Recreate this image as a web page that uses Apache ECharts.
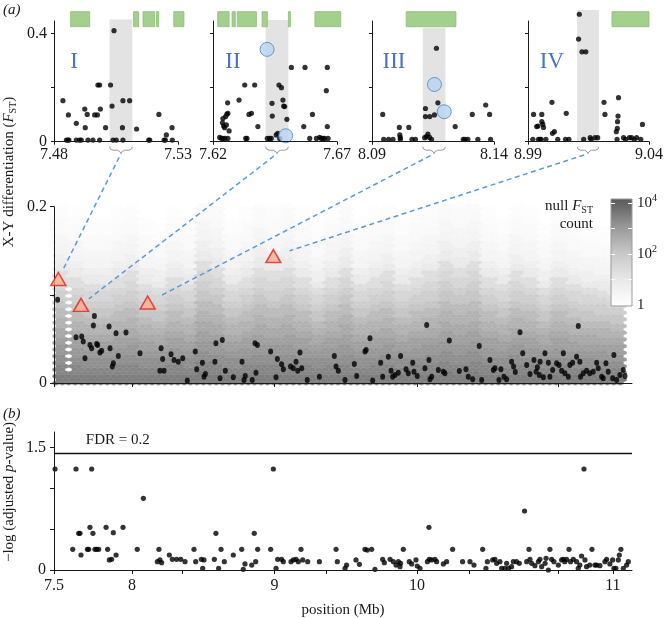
<!DOCTYPE html>
<html>
<head>
<meta charset="utf-8">
<script src="https://cdn.jsdelivr.net/npm/echarts@6/dist/echarts.min.js"></script>
<style>
  html, body { margin: 0; padding: 0; background: #fff; }
  #chart { width: 666px; height: 618px; }
</style>
</head>
<body>
<div id="chart"></div>
<script>
const FONT = 'Liberation Serif';
const INK = '#1a1a1a';

// ---------- (a) insets: windows around the four candidate SNPs ----------
const insetRanges = [[7.48, 7.53], [7.62, 7.67], [8.09, 8.14], [8.99, 9.04]];
const insetNames = ['I', 'II', 'III', 'IV'];
// shaded window [start, end, top]
const insetShade = [[7.5024, 7.5116, 0.453], [7.6412, 7.6504, 0.451], [8.1108, 8.1201, 0.422], [9.0103, 9.0193, 0.488]];
// green gene bars [start, end]
const genesI = [[7.4867, 7.4944], [7.5121, 7.5141], [7.5159, 7.5206], [7.5213, 7.5222], [7.5283, 7.5324]];
const genesII = [[7.6219, 7.6265], [7.6277, 7.6290], [7.6298, 7.6375], [7.6398, 7.6419], [7.6504, 7.6512], [7.6611, 7.6715]];
const genesIII = [[8.1040, 8.1244]];
const genesIV = [[9.0247, 9.0400]];

const dotsI = [[7.4836,0.152],[7.4850,0.006],[7.4856,0.006],[7.4860,0.006],[7.4858,0.099],[7.4890,0.068],[7.4890,0.006],
  [7.4903,0.006],[7.4910,0.006],[7.4926,0.052],[7.4924,0.121],[7.4934,0.101],[7.4937,0.006],[7.4957,0.006],[7.4964,0.099],
  [7.4975,0.099],[7.4977,0.210],[7.4984,0.210],[7.4987,0.121],[7.4984,0.006],[7.5008,0.052],[7.5028,0.210],[7.5034,0.132],
  [7.5038,0.006],[7.5042,0.411],[7.5051,0.006],[7.5076,0.052],[7.5078,0.152],[7.5078,0.006],[7.5105,0.152],[7.5133,0.047],
  [7.5182,0.006],[7.5186,0.006],[7.5223,0.101],[7.5244,0.006],[7.5249,0.006],[7.5253,0.025],[7.5276,0.052],[7.5277,0.006]];
const dotsII = [[7.6227,0.016],[7.6234,0.012],[7.6240,0.012],[7.6248,0.012],[7.6260,0.012],[7.6238,0.070],[7.6243,0.058],
  [7.6247,0.052],[7.6254,0.062],[7.6240,0.086],[7.6251,0.093],[7.6256,0.102],[7.6260,0.105],[7.6259,0.144],[7.6265,0.040],
  [7.6305,0.154],[7.6328,0.210],[7.6332,0.012],[7.6337,0.012],[7.6345,0.101],[7.6355,0.105],[7.6368,0.210],[7.6381,0.056],
  [7.6419,0.012],[7.6428,0.012],[7.6435,0.012],[7.6438,0.142],[7.6439,0.095],[7.6466,0.210],[7.6476,0.200],[7.6482,0.154],
  [7.6485,0.132],[7.6489,0.130],[7.6455,0.025],[7.6461,0.031],[7.6469,0.012],[7.6498,0.083],[7.6516,0.275],[7.6566,0.056],
  [7.6571,0.275],[7.6590,0.012],[7.6601,0.101],[7.6617,0.012],[7.6630,0.016],[7.6637,0.012],[7.6644,0.012],[7.6650,0.012],
  [7.6657,0.189],[7.6661,0.275],[7.6661,0.056],[7.6664,0.012]];
const dotsIII = [[8.0944,0.101],[8.0948,0.009],[8.0968,0.009],[8.0986,0.009],[8.1012,0.053],[8.1014,0.025],[8.1016,0.016],
  [8.1016,0.009],[8.1051,0.053],[8.1064,0.009],[8.1078,0.009],[8.1119,0.123],[8.1119,0.093],[8.1116,0.015],[8.1123,0.019],
  [8.1129,0.028],[8.1136,0.016],[8.1137,0.093],[8.1144,0.009],[8.1156,0.099],[8.1164,0.346],[8.1170,0.144],[8.1241,0.056],
  [8.1274,0.009],[8.1281,0.009],[8.1293,0.009],[8.1311,0.101],[8.1334,0.009],[8.1366,0.136],[8.1382,0.101],[8.1386,0.009]];
const dotsIV = [[8.9920,0.009],[8.9923,0.101],[8.9936,0.056],[8.9941,0.058],[8.9943,0.009],[8.9950,0.009],[8.9954,0.009],
  [8.9957,0.101],[8.9957,0.074],[8.9961,0.065],[8.9964,0.053],[8.9974,0.009],[8.9999,0.146],[9.0001,0.031],[9.0009,0.037],
  [9.0023,0.009],[9.0058,0.105],[9.0055,0.009],[9.0069,0.009],[9.0112,0.472],[9.0109,0.380],[9.0123,0.333],[9.0139,0.333],
  [9.0130,0.009],[9.0157,0.015],[9.0161,0.009],[9.0177,0.015],[9.0188,0.015],[9.0214,0.146],[9.0218,0.101],[9.0265,0.037],
  [9.0269,0.049],[9.0270,0.074],[9.0272,0.095],[9.0274,0.163],[9.0268,0.009],[9.0295,0.015],[9.0303,0.009],[9.0319,0.015],
  [9.0328,0.015],[9.0339,0.009],[9.0349,0.015],[9.0366,0.009],[9.0373,0.064]];
const circlesII = [[7.6418, 0.342], [7.6493, 0.022]];
const circlesIII = [[8.1156, 0.212], [8.1196, 0.111]];

// ---------- (a) main panel ----------
const mainXMin = 7.4526, mainXMax = 11.509;
const aTicks = [7.4526, 8, 9, 10, 10.989];
const mainTriangles = [[7.483, 0.118], [7.642, 0.0886], [8.110, 0.0913], [8.992, 0.144]];
const mainDots = [[7.478,0.0943],[7.736,0.0761],[7.729,0.0652],[7.607,0.0519],[7.647,0.0527],[7.658,0.0470],[7.670,0.0280],
  [7.705,0.0432],[7.717,0.0394],[7.752,0.0443],[7.759,0.0432],[7.775,0.0345],[7.787,0.0367],[7.839,0.0640],[7.846,0.0394],
  [7.888,0.0564],[7.904,0.0307],[7.869,0.0223],[7.862,0.0186],[7.958,0.0572],[8.056,0.0337],[8.204,0.0394],[8.215,0.0273],
  [8.196,0.0140],[8.225,0.0140],[8.274,0.0326],[8.295,0.0261],[8.325,0.0242],[8.356,0.0280],[8.388,0.0027],[8.444,0.0356],
  [8.454,0.0155],[8.494,0.0231],[8.505,0.0072],[8.515,0.0102],[8.589,0.0451],[8.582,0.0242],[8.618,0.0053],[8.634,0.0489],
  [8.655,0.0140],[8.711,0.0064],[8.772,0.0242],[8.786,0.0034],[8.795,0.0080],[8.844,0.0034],[8.863,0.0451],[8.880,0.0432],
  [8.870,0.0117],[8.973,0.0356],[9.011,0.0064],[9.020,0.0273],[9.050,0.0212],[9.062,0.0155],[9.113,0.0186],[9.132,0.0167],
  [9.151,0.0242],[9.163,0.0140],[9.179,0.0345],[9.191,0.0167],[9.230,0.0034],[9.315,0.0072],[9.420,0.0307],[9.432,0.0186],
  [9.448,0.0140],[9.495,0.0034],[9.560,0.0216],[9.577,0.0080],[9.635,0.0356],[9.643,0.0375],[9.670,0.0508],[9.689,0.0027],
  [9.745,0.0231],[9.759,0.0072],[9.799,0.0299],[9.818,0.0140],[9.829,0.0072],[9.846,0.0091],[9.869,0.0117],[9.885,0.0307],
  [9.923,0.0155],[9.939,0.0110],[9.970,0.0231],[9.979,0.0129],[10.002,0.0080],[10.056,0.0167],[10.068,0.0659],[10.084,0.0261],
  [10.091,0.0042],[10.103,0.0072],[10.150,0.0148],[10.185,0.0129],[10.196,0.0110],[10.227,0.0481],[10.297,0.0136],
  [10.344,0.0155],[10.360,0.0072],[10.391,0.0042],[10.437,0.0420],[10.454,0.0034],[10.512,0.0261],[10.536,0.0148],
  [10.547,0.0167],[10.575,0.0034],[10.589,0.0155],[10.610,0.0072],[10.629,0.0042],[10.664,0.0242],[10.678,0.0186],
  [10.690,0.0125],[10.723,0.0576],[10.742,0.0337],[10.770,0.0205],[10.793,0.0102],[10.821,0.0261],[10.836,0.0129],
  [10.845,0.0178],[10.859,0.0091],[10.864,0.0242],[10.887,0.0064],[10.898,0.0337],[10.922,0.0231],[10.933,0.0072],
  [10.952,0.0148],[10.980,0.0223],[10.997,0.0205],[11.015,0.0140],[11.027,0.0337],[11.038,0.0110],[11.062,0.0072],
  [11.073,0.0205],[11.092,0.0231],[11.120,0.0299],[11.132,0.0648],[11.143,0.0242],[11.148,0.0072],[11.167,0.0110],
  [11.190,0.0140],[11.213,0.0110],[11.237,0.0129],[11.261,0.0231],[11.272,0.0167],[11.296,0.0072],[11.307,0.0053],
  [11.326,0.0223],[11.342,0.0129],[11.373,0.0053],[11.382,0.0318],[11.401,0.0034],[11.424,0.0091],[11.448,0.0148],[11.460,0.0080]];

// null F_ST density: log10(count) by F_ST band of 0.01 (from 0 upward)
const nullRowLog = [3.5, 3.35, 3.2, 3.05, 2.9, 2.7, 2.5, 2.3, 2.05, 1.8, 1.55, 1.3, 0.9, 0.7, 0.5, 0.38, 0.28, 0.2, 0.14, 0.08];
// how far up each 0.1 Mb band's density reaches, relative to the typical column (bands start at 7.45)
const nullStretch = [1.05, 1.0, 0.95, 0.95, 1.0, 1.05, 0.95, 0.9, 1.0, 0.95, 1.15, 1.1, 0.95, 1.0, 1.1, 1.05, 1.1, 1.0, 0.9, 1.0,
  1.1, 0.95, 1.0, 1.05, 0.95, 1.0, 1.05, 1.15, 1.1, 1.15, 1.0, 0.95, 1.05, 1.0, 0.9, 1.0, 0.95, 0.9, 0.88, 0.85, 0.8];
const nullSparseCols = [7.556];
const nullRight = 11.47;

// ---------- (b) ----------
const bTicks = [7.4526, 8, 8.351, 9, 9.361, 10, 10.365, 10.989, 11.375];
const bLabelPos = [7.4526, 8, 9, 10, 11.375];
const bLabelText = ['7.5', '8', '9', '10', '11'];
const fdrLine = 1.43;
const pvalDots = [[7.460,1.239],[7.607,1.239],[7.717,1.239],[7.584,0.254],[7.626,0.450],[7.635,0.450],[7.642,0.184],
  [7.687,0.254],[7.696,0.254],[7.705,0.524],[7.726,0.450],[7.740,0.254],[7.752,0.254],[7.766,0.254],[7.818,0.524],
  [7.829,0.254],[7.841,0.123],[7.857,0.131],[7.869,0.458],[7.888,0.184],[7.937,0.524],[8.037,0.254],[8.080,0.879],
  [8.178,0.102],[8.189,0.254],[8.196,0.123],[8.208,0.090],[8.262,0.184],[8.283,0.131],[8.313,0.131],[8.342,0.131],
  [8.372,0.102],[8.435,0.254],[8.447,0.102],[8.487,0.131],[8.496,0.020],[8.505,0.123],[8.578,0.131],[8.589,0.450],
  [8.608,0.020],[8.625,0.254],[8.648,0.102],[8.711,0.184],[8.770,0.254],[8.781,0.008],[8.793,0.074],[8.840,0.061],
  [8.858,0.450],[8.868,0.102],[8.882,0.254],[8.973,0.254],[8.992,1.239],[9.011,0.020],[9.022,0.131],[9.050,0.131],
  [9.062,0.102],[9.116,0.102],[9.132,0.123],[9.151,0.131],[9.167,0.102],[9.186,0.254],[9.198,0.123],[9.233,0.102],
  [9.315,0.102],[9.432,0.254],[9.441,0.102],[9.495,0.020],[9.506,0.061],[9.572,0.123],[9.596,0.070],[9.635,0.254],
  [9.651,0.245],[9.682,0.254],[9.705,0.008],[9.759,0.131],[9.771,0.090],[9.811,0.131],[9.834,0.102],[9.853,0.061],
  [9.869,0.102],[9.881,0.041],[9.904,0.254],[9.885,0.082],[9.946,0.102],[9.963,0.074],[9.993,0.123],[10.002,0.049],
  [10.021,0.020],[10.073,0.102],[10.084,0.524],[10.086,0.131],[10.103,0.123],[10.126,0.131],[10.138,0.102],[10.185,0.074],
  [10.208,0.102],[10.250,0.254],[10.320,0.102],[10.372,0.102],[10.400,0.061],[10.461,0.254],[10.484,0.020],[10.494,0.102],
  [10.531,0.123],[10.547,0.131],[10.559,0.082],[10.582,0.102],[10.594,0.020],[10.617,0.020],[10.629,0.082],[10.643,0.020],
  [10.664,0.041],[10.676,0.102],[10.699,0.102],[10.718,0.082],[10.755,0.724],[10.770,0.102],[10.786,0.254],[10.793,0.131],
  [10.805,0.082],[10.828,0.053],[10.852,0.102],[10.863,0.131],[10.875,0.041],[10.899,0.082],[10.906,0.143],[10.922,0.000],
  [10.933,0.254],[10.945,0.131],[10.961,0.102],[10.992,0.061],[11.015,0.123],[11.027,0.131],[11.038,0.102],[11.050,0.131],
  [11.067,0.254],[11.078,0.102],[11.097,0.131],[11.120,0.102],[11.132,0.020],[11.143,0.061],[11.155,0.172],[11.172,1.239],
  [11.179,0.123],[11.190,0.041],[11.213,0.061],[11.228,0.254],[11.249,0.061],[11.261,0.061],[11.284,0.053],[11.319,0.102],
  [11.331,0.131],[11.354,0.074],[11.373,0.123],[11.382,0.020],[11.396,0.020],[11.413,0.123],[11.420,0.184],[11.431,0.254],
  [11.448,0.020],[11.471,0.061],[11.483,0.102]];

// ---------- layout ----------
const insetLeft = [54, 213, 372, 528];
const insetWidth = [124, 124, 122, 124];
const insetTop = 21, insetHeight = 120.7, insetYMax = 0.447;
const numeralOffset = [20, 20, 22, 24];
const lineGaps = [9, 10, 16, 17];

// grey ramp for log10(count)
const rampStops = [[0, 255], [1, 232], [2, 200], [3, 155], [4, 95], [4.2, 88]];
function grayOf(v) {
  if (v <= rampStops[0][0]) return 255;
  for (let i = 1; i < rampStops.length; i++) {
    if (v <= rampStops[i][0]) {
      const a = rampStops[i - 1], b = rampStops[i];
      return Math.round(a[1] + (b[1] - a[1]) * (v - a[0]) / (b[0] - a[0]));
    }
  }
  return 88;
}
const grayCss = v => { const g = grayOf(v); return 'rgb(' + g + ',' + g + ',' + g + ')'; };

// hexagonal bins of the null distribution
const hexW = 0.045, hexH = 0.0076, hexX0 = 7.466;
const hexCells = [];
for (let lat = 0; lat < 2; lat++) {
  for (let i = 0; ; i++) {
    const cx = hexX0 + (i + lat / 2) * hexW;
    if (cx > nullRight) break;
    const stretch = nullStretch[Math.min(nullStretch.length - 1, Math.floor((cx - 7.45) / 0.1))];
    const sparse = nullSparseCols.some(s => Math.abs(s - cx) < hexW / 4);
    for (let j = 0; ; j++) {
      const cy = (j + lat / 2) * hexH;
      if (cy > 0.2 + hexH / 2) break;
      const r = Math.floor(cy / stretch / 0.01);
      if (r >= nullRowLog.length) continue;
      let v = nullRowLog[r];
      if (sparse && cy > 0.012 && cy < 0.108) v = 0.02;
      hexCells.push([cx, cy, v]);
    }
  }
}

const axisLine = { show: true, lineStyle: { color: INK, width: 1 } };
const labelBase = { fontFamily: FONT, fontSize: 16, color: INK };

const xAxes = [], yAxes = [], grids = [], series = [];

insetRanges.forEach((r, k) => {
  grids.push({ left: insetLeft[k], top: insetTop, width: insetWidth[k], height: insetHeight });
  xAxes.push({
    type: 'value', gridIndex: k, min: r[0], max: r[1], axisLine, z: 5,
    axisTick: { show: true, length: 3, lineStyle: { color: INK }, customValues: [r[0], r[1]] },
    axisLabel: Object.assign({ customValues: [r[0], r[1]], margin: 5, formatter: v => v.toFixed(2) }, labelBase),
    splitLine: { show: false }
  });
  yAxes.push({
    type: 'value', gridIndex: k, min: 0, max: insetYMax, axisLine, z: 5,
    axisTick: { show: true, length: 3, lineStyle: { color: INK }, customValues: [0, 0.2, 0.4] },
    axisLabel: Object.assign({ show: k === 0, customValues: [0, 0.4], margin: 7,
      formatter: v => (v === 0 ? '0' : v.toFixed(1)) }, labelBase),
    splitLine: { show: false }
  });
});

// main (a) grid 4, colour bar grid 5, (b) grid 6
grids.push({ left: 54, top: 206.7, width: 578, height: 176.3 });
grids.push({ left: 611, top: 199, width: 21, height: 107 });
grids.push({ left: 54, top: 432, width: 578, height: 138 });

xAxes.push({
  type: 'value', gridIndex: 4, min: mainXMin, max: mainXMax, axisLine, z: 5,
  axisTick: { show: true, length: 4, lineStyle: { color: INK }, customValues: aTicks },
  axisLabel: { show: false }, splitLine: { show: false }
});
yAxes.push({
  type: 'value', gridIndex: 4, min: 0, max: 0.2, axisLine, z: 5,
  axisTick: { show: true, length: 4, lineStyle: { color: INK }, customValues: [0, 0.1, 0.2] },
  axisLabel: Object.assign({ customValues: [0, 0.2], margin: 7, formatter: v => (v === 0 ? '0' : v.toFixed(1)) }, labelBase),
  splitLine: { show: false }
});

xAxes.push({ type: 'value', gridIndex: 5, min: 0, max: 1, show: false });
const cbTicks = { show: true, inside: true, length: 4, lineStyle: { color: '#fff', width: 1 }, customValues: [1, 2, 3, 4] };
yAxes.push({ type: 'value', gridIndex: 5, min: -0.05, max: 4.15, position: 'left', z: 10,
  axisLine: { show: false }, axisTick: cbTicks, axisLabel: { show: false }, splitLine: { show: false } });
yAxes.push({ type: 'value', gridIndex: 5, min: -0.05, max: 4.15, position: 'right', z: 10,
  axisLine: { show: false }, axisTick: cbTicks,
  axisLabel: {
    customValues: [0, 2, 4], margin: 5, fontFamily: FONT, fontSize: 15, color: INK,
    formatter: v => (v === 0 ? '1' : '10{sup|' + v + '}'),
    rich: { sup: { fontFamily: FONT, fontSize: 10, color: INK, padding: [0, 0, 9, 0] } }
  },
  splitLine: { show: false } });

xAxes.push({
  type: 'value', gridIndex: 6, min: mainXMin, max: mainXMax, axisLine, z: 5,
  axisTick: { show: true, length: 4, lineStyle: { color: INK }, customValues: bTicks },
  axisLabel: Object.assign({ customValues: bLabelPos, margin: 8,
    formatter: v => { const i = bLabelPos.findIndex(p => Math.abs(p - v) < 1e-6); return i < 0 ? '' : bLabelText[i]; } }, labelBase),
  splitLine: { show: false }
});
yAxes.push({
  type: 'value', gridIndex: 6, min: 0, max: 1.693, axisLine, z: 5,
  axisTick: { show: true, length: 4, lineStyle: { color: INK }, customValues: [0, 0.5, 1, 1.5] },
  axisLabel: Object.assign({ customValues: [0, 1.5], margin: 8, formatter: v => (v === 0 ? '0' : v.toFixed(1)) }, labelBase),
  splitLine: { show: false }
});

// inset series
const genesAll = [genesI, genesII, genesIII, genesIV];
const dotsAll = [dotsI, dotsII, dotsIII, dotsIV];
const circlesAll = [[], circlesII, circlesIII, []];
insetRanges.forEach((r, k) => {
  series.push({
    type: 'custom', xAxisIndex: k, yAxisIndex: k, clip: false, silent: true, z: 1,
    data: [insetShade[k]],
    renderItem(params, api) {
      const p0 = api.coord([api.value(0), api.value(2)]);
      const p1 = api.coord([api.value(1), 0]);
      const xa = p0[0], xb = p1[0], xc = (xa + xb) / 2, base = p1[1];
      const y0 = base + 5, y1 = base + 8.5, tip = base + 12;
      return {
        type: 'group',
        children: [
          { type: 'rect', shape: { x: xa, y: p0[1], width: xb - xa, height: base - p0[1] }, style: { fill: '#e3e3e3' } },
          { type: 'polyline', shape: { points: [[xa, y0], [xa + 1, y0 + 2.5], [xa + 3.5, y1], [xc - 3.5, y1], [xc - 1, y1 + 1.5],
            [xc, tip], [xc + 1, y1 + 1.5], [xc + 3.5, y1], [xb - 3.5, y1], [xb - 1, y0 + 2.5], [xb, y0]] },
            style: { stroke: '#9a9a9a', lineWidth: 1, fill: null } }
        ]
      };
    }
  });
  series.push({
    type: 'custom', xAxisIndex: k, yAxisIndex: k, clip: false, silent: true, z: 2,
    data: genesAll[k],
    renderItem(params, api) {
      const a = api.coord([api.value(0), 0.4815]);
      const b = api.coord([api.value(1), 0.4259]);
      return { type: 'rect', shape: { x: a[0], y: a[1], width: b[0] - a[0], height: b[1] - a[1] },
        style: { fill: '#a3d18d', stroke: '#8cbf74', lineWidth: 0.8 } };
    }
  });
  series.push({
    type: 'scatter', xAxisIndex: k, yAxisIndex: k, clip: false, silent: true, z: 3,
    symbol: 'circle', symbolSize: 5.2, itemStyle: { color: '#000' }, data: dotsAll[k]
  });
  if (circlesAll[k].length) {
    series.push({
      type: 'scatter', xAxisIndex: k, yAxisIndex: k, clip: false, silent: true, z: 4,
      symbol: 'circle', symbolSize: 14,
      itemStyle: { color: '#b7d4ef', borderColor: '#4f82c0', borderWidth: 1 }, data: circlesAll[k]
    });
  }
});

// main panel
series.push({
  type: 'custom', xAxisIndex: 4, yAxisIndex: 4, clip: true, silent: true, z: 1,
  data: hexCells,
  renderItem(params, api) {
    const c = api.coord([api.value(0), api.value(1)]);
    const s = api.size([hexW, hexH]);
    const w = s[0] / 2, h = s[1];
    const col = grayCss(api.value(2));
    return {
      type: 'polygon',
      shape: { points: [[c[0] + w, c[1] + h / 6], [c[0] + w, c[1] - h / 6], [c[0], c[1] - h / 3],
        [c[0] - w, c[1] - h / 6], [c[0] - w, c[1] + h / 6], [c[0], c[1] + h / 3]] },
      style: { fill: col, stroke: col, lineWidth: 0.4 }
    };
  }
});
series.push({
  type: 'scatter', xAxisIndex: 4, yAxisIndex: 4, clip: false, silent: true, z: 3,
  symbol: 'circle', symbolSize: [5, 6], itemStyle: { color: '#000' }, data: mainDots
});
series.push({
  type: 'scatter', xAxisIndex: 4, yAxisIndex: 4, clip: false, silent: true, z: 6,
  symbol: 'triangle', symbolSize: [15, 13],
  itemStyle: { color: '#f7b08c', borderColor: '#e8201a', borderWidth: 1.5 }, data: mainTriangles
});

// colour bar
const cbStops = [];
for (let v = 4.15; v >= -0.05; v -= 0.35) cbStops.push({ offset: (4.15 - v) / 4.2, color: grayCss(v) });
cbStops.push({ offset: 1, color: '#ffffff' });
series.push({
  type: 'custom', xAxisIndex: 5, yAxisIndex: 5, silent: true, z: 2,
  data: [[0, 1, -0.05, 4.15]],
  renderItem(params, api) {
    const a = api.coord([api.value(0), api.value(3)]);
    const b = api.coord([api.value(1), api.value(2)]);
    return { type: 'rect', shape: { x: a[0], y: a[1], width: b[0] - a[0], height: b[1] - a[1] },
      style: { fill: new echarts.graphic.LinearGradient(0, 0, 0, 1, cbStops), stroke: '#9a9a9a', lineWidth: 1 } };
  }
});

// (b)
series.push({
  type: 'scatter', xAxisIndex: 6, yAxisIndex: 7, clip: false, silent: true, z: 3,
  symbol: 'circle', symbolSize: 5.2, itemStyle: { color: '#000' }, data: pvalDots,
  markLine: {
    silent: true, symbol: 'none', animation: false,
    lineStyle: { color: '#111', width: 1.3, type: 'solid' }, label: { show: false },
    data: [{ yAxis: fdrLine }]
  }
});

const chart = echarts.init(document.getElementById('chart'), null, { renderer: 'canvas' });
chart.setOption({
  animation: false,
  backgroundColor: '#fff',
  grid: grids, xAxis: xAxes, yAxis: yAxes, series: series
});

// annotations that span panels
const txt = (x, y, text, extra) => ({
  type: 'text', x: x, y: y, z: 60, silent: true,
  style: Object.assign({ text: text, fontFamily: FONT, fontSize: 15, fill: INK, align: 'center', verticalAlign: 'middle' }, extra || {})
});
const richBase = {
  it: { fontFamily: FONT, fontSize: 15, fontStyle: 'italic', fill: INK },
  sub: { fontFamily: FONT, fontSize: 10, fill: INK, padding: [8, 0, 0, 0] }
};
const graphics = [];
graphics.push(txt(3, 3, '(a)', { align: 'left', verticalAlign: 'top', fontStyle: 'italic' }));
graphics.push(txt(3, 407, '(b)', { align: 'left', verticalAlign: 'top', fontStyle: 'italic' }));
graphics.push(Object.assign(txt(9, 172, 'X-Y differentiation ({it|F}{sub|ST})', { rich: richBase }), { rotation: Math.PI / 2 }));
graphics.push(Object.assign(txt(9, 492, '\u2212log (adjusted {it|p}-value)', { rich: richBase }), { rotation: Math.PI / 2 }));
graphics.push(txt(343, 610, 'position (Mb)'));
graphics.push(txt(593, 206, 'null {it|F}{sub|ST}', { align: 'right', rich: richBase }));
graphics.push(txt(593, 224, 'count', { align: 'right' }));
const fdrPos = chart.convertToPixel({ gridIndex: 6 }, [7.9, 1.595]);
graphics.push(txt(fdrPos[0], fdrPos[1], 'FDR = 0.2'));
insetNames.forEach((n, k) => {
  graphics.push(txt(insetLeft[k] + numeralOffset[k], 62, n, { fontSize: 23, fill: '#4874c4' }));
});
mainTriangles.forEach((t, k) => {
  const s = insetShade[k];
  const base = chart.convertToPixel({ gridIndex: k }, [(s[0] + s[1]) / 2, 0]);
  const tip = [base[0], base[1] + 12];
  const end = chart.convertToPixel({ gridIndex: 4 }, t);
  const dx = end[0] - tip[0], dy = end[1] - tip[1], L = Math.hypot(dx, dy);
  const a = 4 / L, b = (L - lineGaps[k]) / L;
  graphics.push({
    type: 'line', z: 55, silent: true,
    shape: { x1: tip[0] + dx * a, y1: tip[1] + dy * a, x2: tip[0] + dx * b, y2: tip[1] + dy * b },
    style: { stroke: '#5b9bd5', lineWidth: 1.5, lineDash: [5, 3.5] }
  });
});
chart.setOption({ graphic: graphics });
</script>
</body>
</html>
